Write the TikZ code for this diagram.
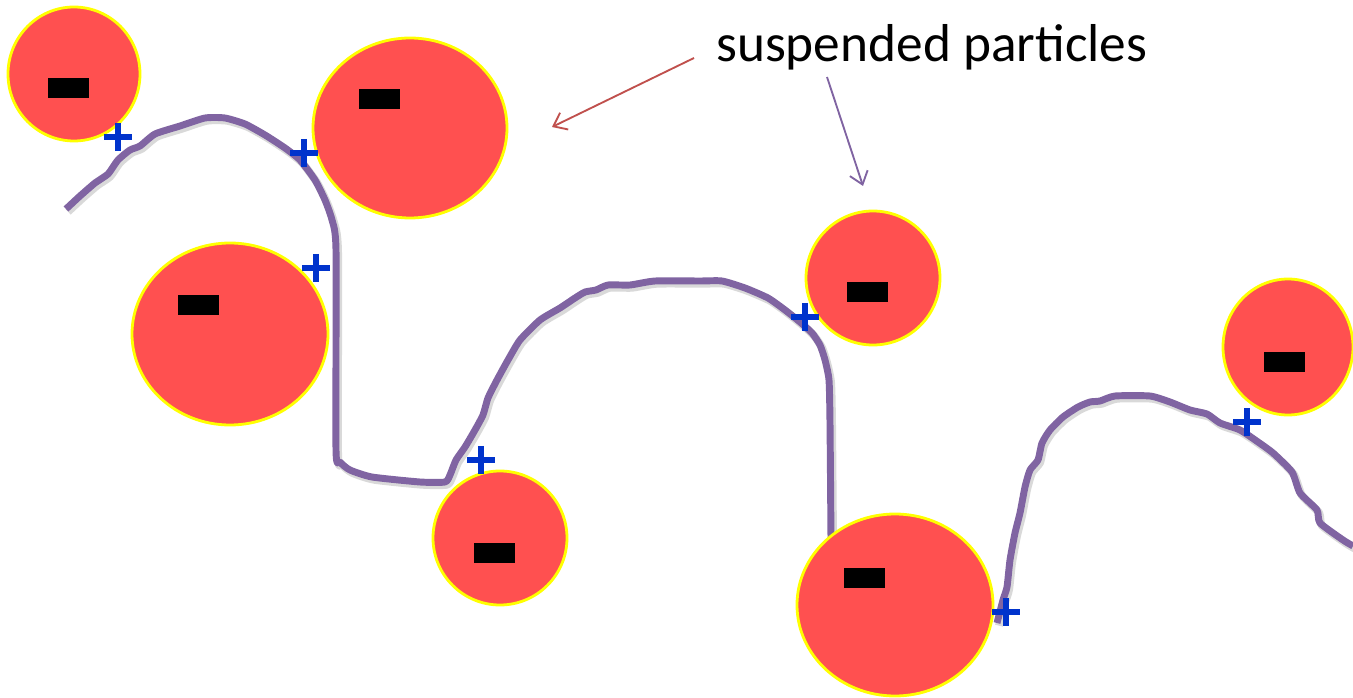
\documentclass[tikz,border=0pt]{standalone}
\usepackage{fontspec}
\setmainfont{Carlito}
\usetikzlibrary{shapes.geometric,arrows.meta}
\definecolor{partred}{HTML}{FF5050}
\definecolor{rimyellow}{HTML}{FFFF00}
\definecolor{curvepurple}{HTML}{8064A2}
\definecolor{plusblue}{HTML}{0033CC}
\definecolor{arrowred}{HTML}{C0504D}
\tikzset{
  particle/.style={ellipse, fill=partred, draw=rimyellow, line width=2.1pt, inner sep=0pt},
  minusbar/.style={rectangle, fill=black, inner sep=0pt, minimum width=30.75pt, minimum height=15pt},
  plusmark/.style={draw=plusblue, line width=4.4pt},
  surface/.style={draw=curvepurple, line width=5.2pt, line join=round, line cap=butt},
  surfshadow/.style={draw=black, opacity=0.15, line width=6pt, line join=round},
  pointer/.style={line width=1.4pt, -{Straight Barb[length=9pt, width=14pt, line width=1.4pt]}},
  label/.style={font=\fontsize{40pt}{44pt}\selectfont, inner sep=0pt, anchor=base west}
}
\begin{document}
\begin{tikzpicture}[x=0.75pt, y=-0.75pt]
\useasboundingbox (0,0) rectangle (1353,698);
% surface curve (shadow then line)
\def\surfpts{(66,209) (80,196) (95,183) (108,174) (118,160) (130,150) (140,146) (155,134) (180,126) (205,118) (225,118) (245,124) (265,135) (285,148) (300,160) (315,180) (325,200) (332,220) (336,250) (336,450) (340,462) (350,470) (372,477) (420,482) (445,482) (450,475) (456,460) (465,447) (475,430) (483,415) (488,398) (497,380) (508,360) (520,340) (540,320) (560,308) (575,298) (585,292) (596,290) (608,285) (630,285) (655,281) (700,281) (722,281) (745,288) (768,298) (785,310) (800,322) (812,333) (820,345) (825,360) (829,380) (830,423) (831,540)}
\def\surfptsb{(997,623) (1003,600) (1007,587) (1010,560) (1015,533) (1020,513) (1025,487) (1030,470) (1038,460) (1042,443) (1050,430) (1063,417) (1078,407) (1090,402) (1100,401) (1115,396) (1150,396) (1170,402) (1190,410) (1207,414) (1220,423) (1240,430) (1258,442) (1273,453) (1292,472) (1300,493) (1317,510) (1320,523) (1343,540) (1353,546)}
\begin{scope}[xshift=1.5, yshift=-2]
\draw[surfshadow] plot[smooth, tension=0.35] coordinates {\surfpts};
\draw[surfshadow] plot[smooth, tension=0.35] coordinates {\surfptsb};
\end{scope}
\draw[surface] plot[smooth, tension=0.35] coordinates {\surfpts};
\draw[surface] plot[smooth, tension=0.35] coordinates {\surfptsb};
% particles
\node[particle, minimum width=99pt, minimum height=100.5pt] (p1) at (74,74) {};
\node[particle, minimum width=145.5pt, minimum height=135pt] (p2) at (410,128) {};
\node[particle, minimum width=147pt, minimum height=136.5pt] (p3) at (230,334) {};
\node[particle, minimum width=100.5pt, minimum height=100.5pt] (p4) at (500,538) {};
\node[particle, minimum width=100.5pt, minimum height=100.5pt] (p5) at (873,278) {};
\node[particle, minimum width=147pt, minimum height=136.5pt] (p6) at (895,605) {};
\node[particle, minimum width=97.5pt, minimum height=102pt] (p7) at (1288,347) {};
% minus signs
\node[minusbar] (m1) at (68.5,88) {};
\node[minusbar] (m2) at (379.5,99.5) {};
\node[minusbar] (m3) at (198.5,305) {};
\node[minusbar] (m4) at (494.5,552.5) {};
\node[minusbar] (m5) at (867,292.5) {};
\node[minusbar] (m6) at (864.5,578) {};
\node[minusbar] (m7) at (1284.5,362) {};
% plus signs
\foreach \x/\y in {118/137, 304/153, 316/268, 481/460, 805/317, 1006/612, 1247/422}{
  \draw[plusmark] (\x-14,\y) -- (\x+14,\y) (\x,\y-14) -- (\x,\y+14);
}
% label and arrows
\node[label] (lbl) at (716,62) {suspended particles};
\coordinate (a1s) at (694,58);
\coordinate (a1e) at (552,127);
\coordinate (a2s) at (827,77);
\coordinate (a2e) at (863,186);
\draw[pointer, arrowred] (a1s) -- (a1e);
\draw[pointer, curvepurple] (a2s) -- (a2e);
\end{tikzpicture}
\end{document}
